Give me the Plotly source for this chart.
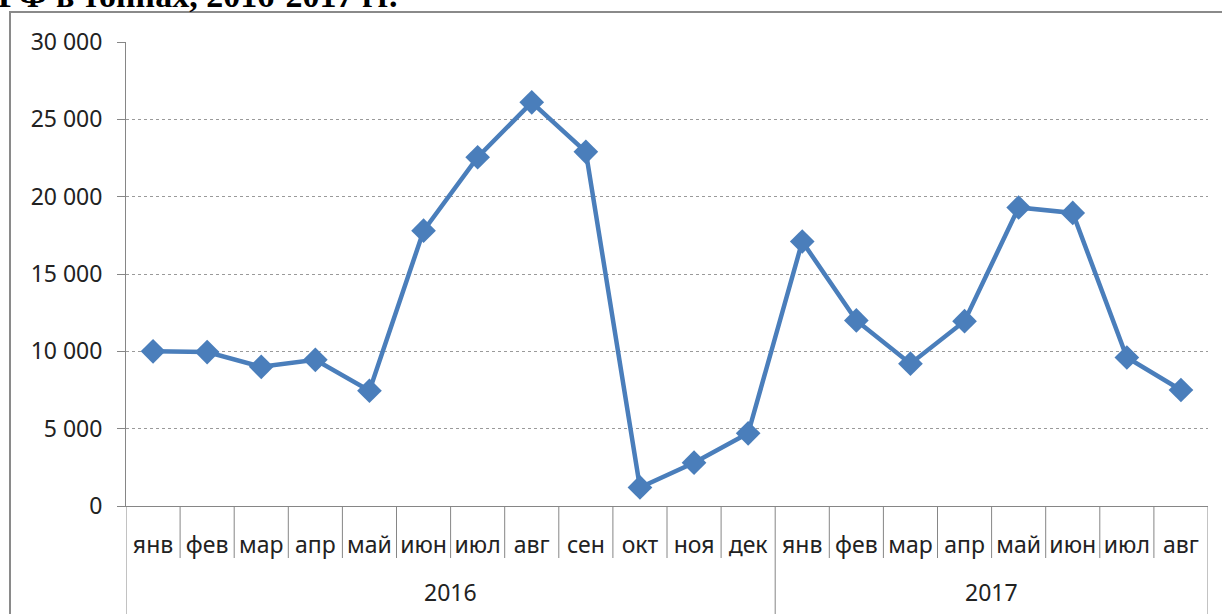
import plotly.graph_objects as go

# data
years = ["2016"] * 12 + ["2017"] * 8
months = ["янв", "фев", "мар", "апр", "май", "июн", "июл", "авг", "сен", "окт", "ноя", "дек",
          "янв", "фев", "мар", "апр", "май", "июн", "июл", "авг"]
values = [10000, 9950, 9000, 9450, 7450, 17800, 22550, 26100, 22900, 1200, 2800, 4700,
          17100, 12000, 9200, 11950, 19300, 18950, 9600, 7500]
y_ticks = [0, 5000, 10000, 15000, 20000, 25000, 30000]

W, H = 1222, 614
L, R, T, B = 126, 14, 42, 108
pw, ph = W - L - R, H - T - B

BLUE = "#4A7EBB"
GREY = "#868686"
FONT = "Noto Sans"


def px(x):
    return (x - L) / pw


def py(y):
    return (H - B - y) / ph


idx = list(range(len(months)))

fig = go.Figure()
fig.add_trace(go.Scatter(
    x=idx,
    y=values,
    mode="lines+markers",
    line=dict(color=BLUE, width=4.5),
    marker=dict(symbol="diamond", size=19, color=BLUE),
    showlegend=False,
))

fig.update_xaxes(
    range=[-0.5, len(months) - 0.5],
    tickvals=idx, ticktext=months,
    showline=True, linecolor=GREY, linewidth=1,
    ticks="", showgrid=False, zeroline=False,
    ticklabelstandoff=18, automargin=False,
    tickfont=dict(family=FONT, size=23, color="#222222"),
)
fig.update_yaxes(
    range=[0, 30000], tickvals=y_ticks, tickformat=",d",
    showline=True, linecolor=GREY, linewidth=1,
    ticks="outside", ticklen=8, tickcolor=GREY,
    showgrid=True, gridcolor="#9a9a9a", griddash="dot", gridwidth=1,
    zeroline=False, automargin=False,
    tickfont=dict(family=FONT, size=23, color="#222222"),
    ticklabelstandoff=10,
)

# category separators below the axis: short between months, long between years
starts = [i for i in idx if i == 0 or years[i] != years[i - 1]]
for b in idx[1:]:
    if b in starts:
        continue
    fig.add_shape(type="line", xref="x", yref="paper",
                  x0=b - 0.5, x1=b - 0.5, y0=0, y1=py(558),
                  line=dict(color=GREY, width=1))
for b in starts + [len(months)]:
    fig.add_shape(type="line", xref="x", yref="paper",
                  x0=b - 0.5, x1=b - 0.5, y0=0, y1=py(640),
                  line=dict(color=GREY, width=1))

# year group labels
for yr in dict.fromkeys(years):
    pos = [i for i in idx if years[i] == yr]
    fig.add_annotation(text=yr, xref="x", yref="paper",
                       x=sum(pos) / len(pos), y=py(592),
                       showarrow=False, yanchor="middle",
                       font=dict(family=FONT, size=23, color="#222222"))

# outer chart border (Excel chart frame), right edge is off-screen
fig.add_shape(type="rect", xref="paper", yref="paper",
              x0=px(10), x1=px(1240), y0=py(640), y1=py(12),
              line=dict(color="#8a8a8a", width=2), layer="below")

# partially visible heading above the chart
fig.add_annotation(
    text="<b>РФ в тоннах, 2016-2017 гг.</b>", xref="paper", yref="paper",
    x=px(-4), y=py(16), xanchor="left", yanchor="bottom", showarrow=False,
    font=dict(family="Liberation Serif", size=34, color="#000000"),
)

fig.update_layout(
    width=W, height=H,
    margin=dict(l=L, r=R, t=T, b=B),
    separators=", ",
    plot_bgcolor="white", paper_bgcolor="white",
    font=dict(family=FONT),
)

fig.write_html("out.html", config={"displayModeBar": False},
               post_script="document.body.style.margin='0';document.body.style.overflow='hidden';")
